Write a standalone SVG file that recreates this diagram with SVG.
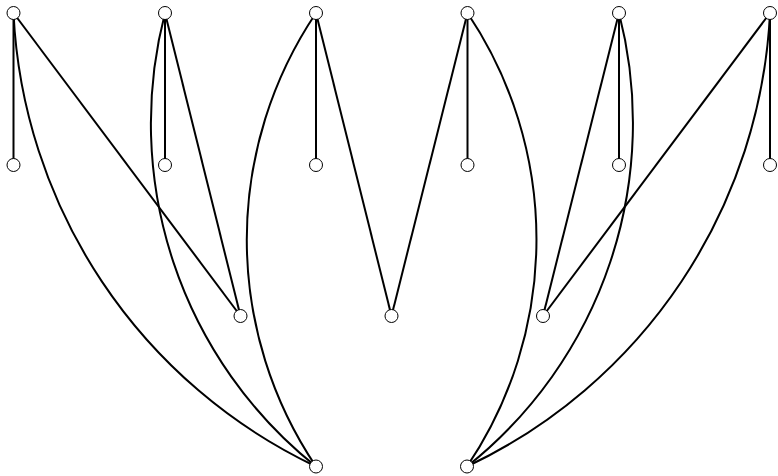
<svg xmlns="http://www.w3.org/2000/svg" width="778" height="476" viewBox="0 0 778 476">
<style>
.e{fill:none;stroke:#000;stroke-width:2}
.n circle{fill:#fff;stroke:#000;stroke-width:1}
</style>
<rect width="778" height="476" fill="#fff"/>
<g id="edges">
<path class="e" d="M13.5,13 L13.5,165"/>
<path class="e" d="M13.5,13 L240.5,316"/>
<path class="e" d="M13.5,13 A530,530 0 0 0 316,466.5"/>
<path class="e" d="M165,13 L165,165"/>
<path class="e" d="M165,13 L240.5,316"/>
<path class="e" d="M165,13 A439,439 0 0 0 316,466.5"/>
<path class="e" d="M316,13 L316,165"/>
<path class="e" d="M316,13 L391.5,316"/>
<path class="e" d="M316,13 A406,406 0 0 0 316,466.5"/>
<path class="e" d="M467.5,13 L467.5,165"/>
<path class="e" d="M467.5,13 L391.5,316"/>
<path class="e" d="M467.5,13 A406,406 0 0 1 467,466.5"/>
<path class="e" d="M619,13 L619,165"/>
<path class="e" d="M619,13 L543,316"/>
<path class="e" d="M619,13 A439,439 0 0 1 467,466.5"/>
<path class="e" d="M770,13 L770,165"/>
<path class="e" d="M770,13 L543,316"/>
<path class="e" d="M770,13 A530,530 0 0 1 467,466.5"/>
</g>
<g class="n">
<g id="t1"><circle cx="13.5" cy="13" r="6.5"/></g>
<g id="t2"><circle cx="165" cy="13" r="6.5"/></g>
<g id="t3"><circle cx="316" cy="13" r="6.5"/></g>
<g id="t4"><circle cx="467.5" cy="13" r="6.5"/></g>
<g id="t5"><circle cx="619" cy="13" r="6.5"/></g>
<g id="t6"><circle cx="770" cy="13" r="6.5"/></g>
<g id="m1"><circle cx="13.5" cy="165" r="6.5"/></g>
<g id="m2"><circle cx="165" cy="165" r="6.5"/></g>
<g id="m3"><circle cx="316" cy="165" r="6.5"/></g>
<g id="m4"><circle cx="467.5" cy="165" r="6.5"/></g>
<g id="m5"><circle cx="619" cy="165" r="6.5"/></g>
<g id="m6"><circle cx="770" cy="165" r="6.5"/></g>
<g id="c1"><circle cx="240.5" cy="316" r="6.5"/></g>
<g id="c2"><circle cx="391.5" cy="316" r="6.5"/></g>
<g id="c3"><circle cx="543" cy="316" r="6.5"/></g>
<g id="b1"><circle cx="316" cy="466.5" r="6.5"/></g>
<g id="b2"><circle cx="467" cy="466.5" r="6.5"/></g>
</g>
</svg>
